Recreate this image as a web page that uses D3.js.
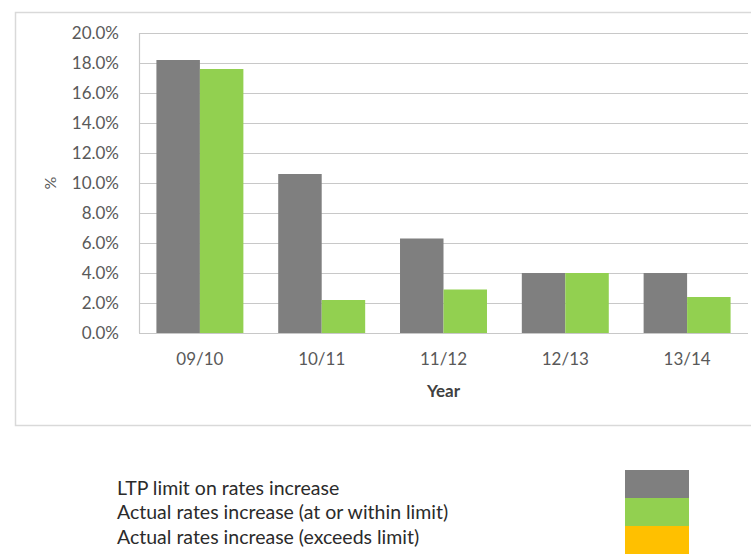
<!DOCTYPE html>
<html>
<head>
<meta charset="utf-8">
<script src="https://cdn.jsdelivr.net/npm/d3@7"></script>
<style>
  html, body { margin: 0; padding: 0; background: #fff; }
  svg { display: block; }
  text { font-family: Lato, "Liberation Sans", sans-serif; }
</style>
</head>
<body>
<svg id="chart" width="751" height="555"></svg>
<script>
// Rates increase per financial year
const years = ["09/10", "10/11", "11/12", "12/13", "13/14"];
const ltpLimit = [18.2, 10.6, 6.3, 4.0, 4.0];
const actualIncrease = [17.6, 2.2, 2.9, 4.0, 2.4];
const yTicks = [0, 2, 4, 6, 8, 10, 12, 14, 16, 18, 20];
const legendLabels = [
  "LTP limit on rates increase",
  "Actual rates increase (at or within limit)",
  "Actual rates increase (exceeds limit)"
];
const legendColors = ["#7f7f7f", "#92d050", "#ffc000"];
const seriesNames = ["limit", "actual"];

const svg = d3.select("#chart");

// chart frame
svg.append("rect")
  .attr("x", 15.5).attr("y", 12.5)
  .attr("width", 760).attr("height", 413)
  .attr("fill", "#fff")
  .attr("stroke", "#d9d9d9")
  .attr("stroke-width", 1.5);

const plot = { left: 139, right: 748, top: 33, bottom: 333 };

const x = d3.scaleBand()
  .domain(years)
  .range([plot.left, plot.right])
  .paddingInner(0.286)
  .paddingOuter(0.143);

const x1 = d3.scaleBand()
  .domain(seriesNames)
  .range([0, x.bandwidth()]);

const y = d3.scaleLinear()
  .domain([0, 20])
  .range([plot.bottom, plot.top]);

// gridlines
svg.append("g")
  .selectAll("line")
  .data(yTicks)
  .join("line")
  .attr("x1", plot.left).attr("x2", plot.right)
  .attr("y1", d => Math.round(y(d)) + 0.5)
  .attr("y2", d => Math.round(y(d)) + 0.5)
  .attr("stroke", "#c8c8c8")
  .attr("stroke-width", 1.2);

// vertical axis line
svg.append("line")
  .attr("x1", plot.left + 0.5).attr("x2", plot.left + 0.5)
  .attr("y1", plot.top).attr("y2", plot.bottom)
  .attr("stroke", "#c8c8c8")
  .attr("stroke-width", 1.2);

// y axis labels
const yAxis = d3.axisLeft(y)
  .tickValues(yTicks)
  .tickSize(0)
  .tickPadding(20)
  .tickFormat(d => d3.format(".1f")(d) + "%");

svg.append("g")
  .attr("transform", `translate(${plot.left},0)`)
  .call(yAxis)
  .call(g => g.select(".domain").remove())
  .call(g => g.selectAll("text")
    .attr("fill", "#595959")
    .style("font-size", "17px")
    .style("font-family", "Lato, sans-serif"));

// x axis labels
const xAxis = d3.axisBottom(x).tickSize(0).tickPadding(20);
svg.append("g")
  .attr("transform", `translate(0,${plot.bottom})`)
  .call(xAxis)
  .call(g => g.select(".domain").remove())
  .call(g => g.selectAll("text")
    .attr("fill", "#595959")
    .style("font-size", "17px")
    .style("font-family", "Lato, sans-serif"));

// axis titles
svg.append("text")
  .attr("x", (plot.left + plot.right) / 2)
  .attr("y", 397)
  .attr("text-anchor", "middle")
  .attr("fill", "#404040")
  .style("font-size", "17px")
  .style("font-weight", "bold")
  .text("Year");

svg.append("text")
  .attr("transform", "translate(56,183) rotate(-90)")
  .attr("text-anchor", "middle")
  .attr("fill", "#595959")
  .style("font-size", "16px")
  .text("%");

// bars
const groups = svg.append("g")
  .selectAll("g")
  .data(years.map((yr, i) => ({ yr, values: [ltpLimit[i], actualIncrease[i]] })))
  .join("g")
  .attr("transform", d => `translate(${x(d.yr)},0)`);

groups.selectAll("rect")
  .data(d => d.values.map((v, j) => ({ key: seriesNames[j], v, color: legendColors[j] })))
  .join("rect")
  .attr("x", d => x1(d.key))
  .attr("width", x1.bandwidth())
  .attr("y", d => y(d.v))
  .attr("height", d => y(0) - y(d.v))
  .attr("fill", d => d.color);

// legend
const legendTop = 470, swatchH = 28;
svg.append("g")
  .selectAll("rect")
  .data(legendColors)
  .join("rect")
  .attr("x", 625)
  .attr("y", (d, i) => legendTop + i * swatchH)
  .attr("width", 64)
  .attr("height", swatchH)
  .attr("fill", d => d);

svg.append("g")
  .selectAll("text")
  .data(legendLabels)
  .join("text")
  .attr("x", 117)
  .attr("y", (d, i) => 488 + i * 24.5)
  .attr("dy", "0.35em")
  .attr("fill", "#2b2b2b")
  .style("font-size", "19.5px")
  .text(d => d);
</script>
</body>
</html>
